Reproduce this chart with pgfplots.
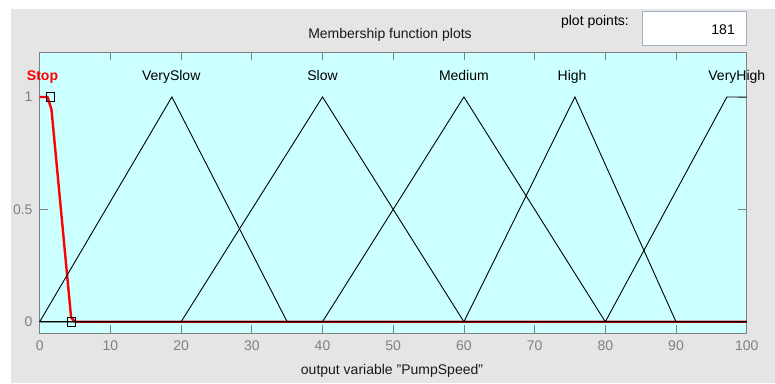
\documentclass[border=0pt]{standalone}
\usepackage{pgfplots}
\pgfplotsset{compat=1.18}
\usepackage{fontspec}
\setmainfont{Liberation Sans}

\definecolor{panelgray}{RGB}{229,229,229}
\definecolor{mfcyan}{RGB}{204,255,255}
\definecolor{axisgray}{RGB}{128,128,128}
\definecolor{boxedge}{RGB}{160,176,192}
\definecolor{stopred}{RGB}{255,0,0}

\newcommand{\uifont}{\fontsize{14pt}{16pt}\selectfont}

\begin{document}
\begin{tikzpicture}[x=1pt,y=1pt]
  \useasboundingbox (0,0) rectangle (775,383);
  % window background
  \fill[white] (0,0) rectangle (775,383);
  \fill[panelgray] (11,0) rectangle (775,374);

  % header texts and the plot-points edit box
  \node[anchor=base, font=\uifont, text=black!90] at (390,344) {Membership function plots};
  \node[anchor=base east, font=\uifont, inner sep=0pt] at (629,357) {plot points:};
  \filldraw[fill=white, draw=boxedge, line width=0.8pt] (642,338) rectangle (746,372);
  \node[anchor=base east, font=\uifont, inner sep=0pt] at (735,348) {181};

  \begin{axis}[
    at={(39.7pt,50pt)}, anchor=south west,
    scale only axis, width=707pt, height=281pt,
    xmin=0, xmax=100, ymin=-0.05, ymax=1.2,
    xtick={0,10,...,100},
    ytick={0,0.5,1},
    tick align=inside,
    major tick length=8.5pt,
    axis line style={axisgray, line width=0.9pt},
    tick style={axisgray, line width=0.8pt},
    axis background/.style={fill=mfcyan},
    /pgf/number format/assume math mode=true,
    ticklabel style={font=\uifont, text=axisgray},
    xticklabel style={inner sep=0pt, anchor=north, yshift=-8pt},
    yticklabel style={inner sep=0pt, anchor=east, xshift=-7pt},
    clip=false,
  ]
    % Stop (trapezoid, sampled on the 181-point grid)
    \addplot[stopred, line width=2.4pt, line join=round] coordinates {
      (0,1) (1.111,1) (1.667,0.944) (4.444,0.0185) (5,0) (100,0)};

    % remaining membership functions
    \addplot[black, line width=0.9pt] coordinates {(0,0) (18.7,1) (35,0) (100,0)};
    \addplot[black, line width=0.9pt] coordinates {(0,0) (20,0) (40,1) (60,0) (100,0)};
    \addplot[black, line width=0.9pt] coordinates {(0,0) (40,0) (60,1) (80,0) (100,0)};
    \addplot[black, line width=0.9pt] coordinates {(0,0) (60,0) (75.7,1) (90,0) (100,0)};
    \addplot[black, line width=0.9pt] coordinates {(0,0) (80,0) (97.2,1) (100,1)};

    % parameter handles of the selected function
    \addplot[only marks, mark=square, mark size=4.2pt, black, mark options={fill=none, line width=0.9pt}]
      coordinates {(1.5,1) (4.5,0)};

    % function names
    \node[anchor=base, font=\uifont\bfseries, text=stopred] at (axis cs:0.4,1.075) {Stop};
    \node[anchor=base, font=\uifont] at (axis cs:18.6,1.075) {VerySlow};
    \node[anchor=base, font=\uifont] at (axis cs:40,1.075) {Slow};
    \node[anchor=base, font=\uifont] at (axis cs:60,1.075) {Medium};
    \node[anchor=base, font=\uifont] at (axis cs:75.3,1.075) {High};
    \node[anchor=base, font=\uifont] at (axis cs:98.6,1.075) {VeryHigh};
  \end{axis}

  \node[anchor=base, font=\uifont, text=black!90] at (392,9) {output variable "PumpSpeed"};
\end{tikzpicture}
\end{document}
